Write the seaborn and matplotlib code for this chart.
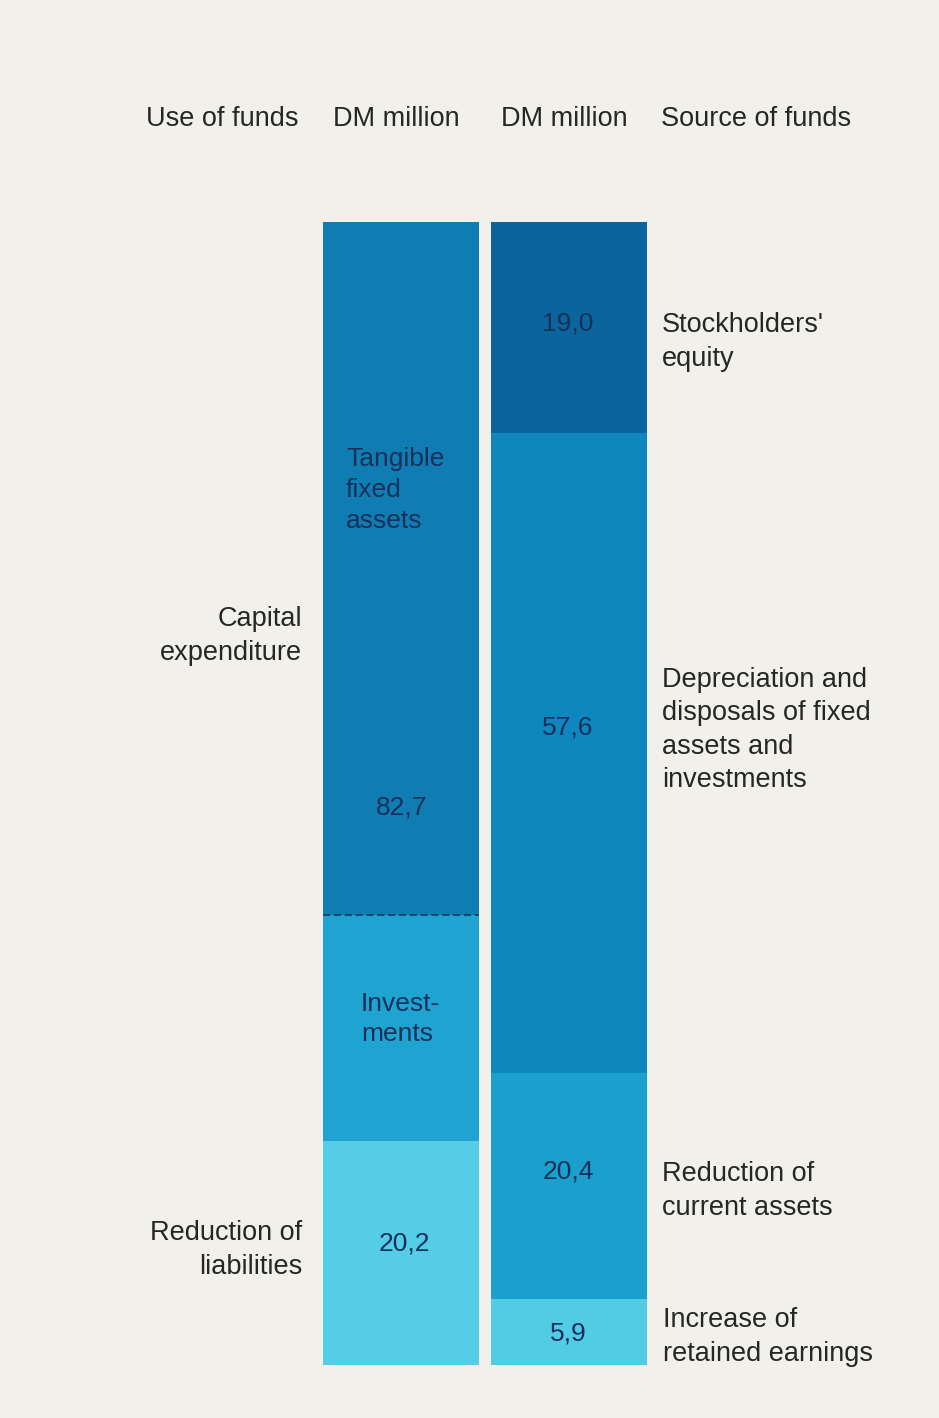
import matplotlib
matplotlib.use("Agg")
import matplotlib.pyplot as plt
import seaborn as sns
import pandas as pd

# Use of funds (left column), DM million, stacked from the top
use_labels = ["Tangible fixed assets", "Investments", "Reduction of liabilities"]
use_values = [62.4, 20.3, 20.2]
use_colors = ["#0f7db2", "#1fa3d0", "#55cde6"]

# Source of funds (right column), DM million, stacked from the top
src_labels = ["Stockholders' equity",
              "Depreciation and disposals of fixed assets and investments",
              "Reduction of current assets",
              "Increase of retained earnings"]
src_values = [19.0, 57.6, 20.4, 5.9]
src_colors = ["#0b659c", "#0d87bd", "#1b9fcc", "#52cbe5"]

columns = ["Use of funds", "Source of funds"]

BG = "#f1f0ea"
TXT = "#262626"
INK = "#15305a"
W, H = 939, 1418

sns.set_theme(style="white")
plt.rcParams["font.family"] = ["Liberation Sans", "DejaVu Sans"]

fig = plt.figure(figsize=(W / 100, H / 100), dpi=100, facecolor=BG)
top_px, bot_px = 222, 1365
left_px, right_px = 300, 670
ax = fig.add_axes([left_px / W, 1 - bot_px / H, (right_px - left_px) / W, (bot_px - top_px) / H])
ax.set_facecolor(BG)


def stack(labels, values, colors, column):
    rows = []
    base = 0.0
    for lab, v, c in zip(labels, values, colors):
        rows.append(dict(col=column, part=lab, value=v, bottom=base, color=c))
        base += v
    return rows


rows = stack(use_labels, use_values, use_colors, columns[0]) + \
       stack(src_labels, src_values, src_colors, columns[1])
df = pd.DataFrame(rows)

for _, r in df.iterrows():
    sub = pd.DataFrame({"col": [r["col"]], "value": [r["value"]]})
    sns.barplot(data=sub, x="col", y="value", order=columns, ax=ax,
                color=r["color"], width=0.93, bottom=r["bottom"],
                saturation=1, linewidth=0, edgecolor="none")

total = sum(use_values)
ax.set_ylim(total, 0)
ax.set_xlim(-0.601, 1.601)
ax.axis("off")

# dashed split between tangible assets and investments
split = use_values[0]
ax.plot([-0.465, 0.465], [split, split], ls=(0, (4, 2)), color="#17406a", lw=1.3)


def fmt(v):
    return f"{v:.1f}".replace(".", ",")


FS = 19.5
BFS = 19
LS = 1.36

# column headers
fig.text(298 / W, 1 - 119 / H, "Use of funds", ha="right", va="center", fontsize=FS, color=TXT)
fig.text(396 / W, 1 - 119 / H, "DM million", ha="center", va="center", fontsize=FS, color=TXT)
fig.text(564 / W, 1 - 119 / H, "DM million", ha="center", va="center", fontsize=FS, color=TXT)
fig.text(661 / W, 1 - 119 / H, "Source of funds", ha="left", va="center", fontsize=FS, color=TXT)


def block(x, y, text, ha):
    fig.text(x / W, 1 - y / H, text, ha=ha, va="center", fontsize=FS, color=TXT,
             linespacing=LS)


# left-side captions
block(302, 636, "Capital\nexpenditure", "right")
block(302, 1250, "Reduction of\nliabilities", "right")

# right-side captions
block(662, 342, "Stockholders'\nequity", "left")
block(662, 730, "Depreciation and\ndisposals of fixed\nassets and\ninvestments", "left")
block(662, 1191, "Reduction of\ncurrent assets", "left")
block(663, 1337, "Increase of\nretained earnings", "left")


def inbar(x, y, text, ha="center"):
    fig.text(x / W, 1 - y / H, text, ha=ha, va="center", fontsize=BFS, color=INK,
             linespacing=LS)


inbar(346, 490, "Tangible\nfixed\nassets", "left")
inbar(361, 1019, "Invest-\nments", "left")
inbar(402, 807, fmt(use_values[0] + use_values[1]))
inbar(404, 1244, fmt(use_values[2]))
inbar(568, 323, fmt(src_values[0]))
inbar(568, 727, fmt(src_values[1]))
inbar(568, 1171, fmt(src_values[2]))
inbar(568, 1334, fmt(src_values[3]))

fig.savefig("out.png", dpi=100, facecolor=BG)
